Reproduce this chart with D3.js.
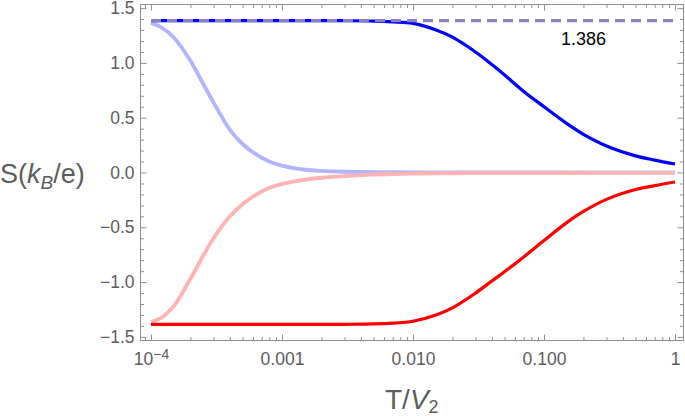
<!DOCTYPE html>
<html>
<head>
<meta charset="utf-8">
<script src="https://cdn.jsdelivr.net/npm/d3@7"></script>
<style>
  html, body { margin: 0; padding: 0; background: #fff; }
  svg { display: block; font-family: "Liberation Sans", Arial, Helvetica, sans-serif; }
</style>
</head>
<body>
<svg id="chart" width="685" height="416"></svg>
<script>
// ---------- data ----------
const T = [1e-4, 1.2e-4, 1.5e-4, 2e-4, 2.5e-4, 3e-4, 4e-4, 5e-4, 6e-4, 8e-4,
           1e-3, 1.5e-3, 2e-3, 3e-3, 5e-3, 7e-3, 0.01, 0.015, 0.02, 0.03,
           0.04, 0.05, 0.07, 0.1, 0.15, 0.2, 0.3, 0.5, 0.7, 1];
const darkBlue = [1.386, 1.386, 1.386, 1.386, 1.386, 1.386, 1.386, 1.386, 1.386, 1.386,
                  1.386, 1.386, 1.386, 1.385, 1.382, 1.374, 1.36, 1.30, 1.235, 1.10,
                  0.985, 0.89, 0.74, 0.60, 0.445, 0.348, 0.242, 0.152, 0.113, 0.078];
const darkRed = [-1.386, -1.386, -1.386, -1.386, -1.386, -1.386, -1.386, -1.386, -1.386, -1.386,
                 -1.386, -1.386, -1.386, -1.385, -1.382, -1.375, -1.357, -1.30, -1.235, -1.10,
                 -0.99, -0.905, -0.77, -0.62, -0.455, -0.355, -0.245, -0.155, -0.12, -0.087];
const lightBlue = [1.365, 1.325, 1.23, 1.02, 0.81, 0.64, 0.39, 0.26, 0.185, 0.10,
                   0.062, 0.025, 0.014, 0.007, 0.004, 0.003, 0.002, 0.0015, 0.001, 0.001,
                   0.001, 0.001, 0.001, 0.001, 0.001, 0.001, 0.001, 0.001, 0.001, 0.001];
const lightRed = [-1.365, -1.325, -1.215, -0.97, -0.76, -0.60, -0.40, -0.29, -0.22, -0.14,
                  -0.105, -0.065, -0.048, -0.033, -0.02, -0.014, -0.01, -0.008, -0.007, -0.006,
                  -0.006, -0.005, -0.005, -0.005, -0.005, -0.004, -0.004, -0.004, -0.004, -0.004];
const refValue = 1.386;
const refLabel = "1.386";
const xMajorTicks = [1e-4, 1e-3, 1e-2, 1e-1, 1];
const xTickLabels = ["10|−4", "0.001", "0.010", "0.100", "1"];
const yMajorTicks = [-1.5, -1.0, -0.5, 0.0, 0.5, 1.0, 1.5];
const yTickLabels = ["−1.5", "−1.0", "−0.5", "0.0", "0.5", "1.0", "1.5"];

// ---------- layout ----------
const svg = d3.select("#chart");
const L = 140.5, R = 683.5, TOP = 4.5, BOT = 340.5;
const x = d3.scaleLog().domain([1e-4, 1]).range([151, 675]);
const y = d3.scaleLinear().domain([-1.5, 1.5]).range([336.9, 8.1]);

// minor ticks
const xMinor = [];
for (let e = -5; e <= 0; e++) for (let k = 2; k <= 9; k++) {
  const v = k * Math.pow(10, e);
  const px = x(v);
  if (px > L && px < R) xMinor.push(v);
}
const yMinor = d3.range(-15, 16).map(d => d / 10).filter(v => Math.abs(v * 2 - Math.round(v * 2)) > 1e-9);

const axisColor = "#8f8f8f";
const labelColor = "#5c5c5c";

function styleAxis(g) {
  g.select(".domain").remove();
  g.selectAll(".tick line").attr("stroke", axisColor).attr("stroke-width", 1);
  g.selectAll(".tick text").attr("fill", labelColor).style("font-size", "17.5px")
    .style("font-family", "'Liberation Sans', Arial, sans-serif");
}

// bottom
svg.append("g").attr("transform", `translate(0,${BOT})`)
  .call(d3.axisBottom(x).tickValues(xMajorTicks).tickSize(-6).tickPadding(12)
    .tickFormat((d, i) => xTickLabels[i]))
  .call(styleAxis)
  .call(g => g.selectAll(".tick text").each(function(d, i) {
    const lbl = xTickLabels[i];
    if (lbl.includes("|")) {
      const [base, sup] = lbl.split("|");
      const t = d3.select(this).text("");
      t.append("tspan").text(base);
      t.append("tspan").attr("dy", "-0.45em").style("font-size", "14px").text(sup);
    }
  }));
svg.append("g").attr("transform", `translate(0,${BOT})`)
  .call(d3.axisBottom(x).tickValues(xMinor).tickSize(-3.5).tickFormat(""))
  .call(styleAxis);
// top
svg.append("g").attr("transform", `translate(0,${TOP})`)
  .call(d3.axisTop(x).tickValues(xMajorTicks).tickSize(-6).tickFormat(""))
  .call(styleAxis);
svg.append("g").attr("transform", `translate(0,${TOP})`)
  .call(d3.axisTop(x).tickValues(xMinor).tickSize(-3.5).tickFormat(""))
  .call(styleAxis);
// left
svg.append("g").attr("transform", `translate(${L},0)`)
  .call(d3.axisLeft(y).tickValues(yMajorTicks).tickSize(-6).tickPadding(6)
    .tickFormat((d, i) => yTickLabels[i]))
  .call(styleAxis);
svg.append("g").attr("transform", `translate(${L},0)`)
  .call(d3.axisLeft(y).tickValues(yMinor).tickSize(-3.5).tickFormat(""))
  .call(styleAxis);
// right
svg.append("g").attr("transform", `translate(${R},0)`)
  .call(d3.axisRight(y).tickValues(yMajorTicks).tickSize(-6).tickFormat(""))
  .call(styleAxis);
svg.append("g").attr("transform", `translate(${R},0)`)
  .call(d3.axisRight(y).tickValues(yMinor).tickSize(-3.5).tickFormat(""))
  .call(styleAxis);

// frame
svg.append("rect").attr("x", L).attr("y", TOP).attr("width", R - L).attr("height", BOT - TOP)
  .attr("fill", "none").attr("stroke", axisColor).attr("stroke-width", 1);

// ---------- curves ----------
const plot = svg.append("g");
const line = vals => d3.line()
  .x((d, i) => x(T[i]))
  .y(d => y(d))
  .curve(d3.curveCatmullRom.alpha(0.5))(vals);

plot.append("path").attr("d", line(lightBlue)).attr("fill", "none")
  .attr("stroke", "#b3b3ff").attr("stroke-width", 3.8).attr("stroke-linejoin", "round");
plot.append("path").attr("d", line(lightRed)).attr("fill", "none")
  .attr("stroke", "#ffb3b3").attr("stroke-width", 3.8).attr("stroke-linejoin", "round");
plot.append("path").attr("d", line(darkBlue)).attr("fill", "none")
  .attr("stroke", "#0000ff").attr("stroke-width", 3.2).attr("stroke-linejoin", "round");
plot.append("path").attr("d", line(darkRed)).attr("fill", "none")
  .attr("stroke", "#ff0000").attr("stroke-width", 3.2).attr("stroke-linejoin", "round");

// dashed reference line
plot.append("line")
  .attr("x1", x(T[0])).attr("x2", x(T[T.length - 1]))
  .attr("y1", y(refValue)).attr("y2", y(refValue))
  .attr("stroke", "#8b80c3").attr("stroke-width", 3.2)
  .attr("stroke-dasharray", "10,6");
plot.append("text")
  .attr("x", x(0.2)).attr("y", y(refValue) + 24)
  .attr("text-anchor", "middle").attr("fill", "#000")
  .style("font-size", "18px").text(refLabel);

// ---------- axis labels ----------
const yl = svg.append("text").attr("x", 0).attr("y", 183)
  .attr("fill", labelColor).style("font-size", "27px");
yl.append("tspan").text("S(");
yl.append("tspan").style("font-style", "italic").text("k");
yl.append("tspan").style("font-style", "italic").style("font-size", "19px").attr("dy", 6).text("B");
yl.append("tspan").attr("dy", -6).text("/e)");

const xl = svg.append("text").attr("x", 385).attr("y", 409)
  .attr("fill", labelColor).style("font-size", "28px");
xl.append("tspan").text("T/");
xl.append("tspan").style("font-style", "italic").text("V");
xl.append("tspan").style("font-size", "18px").attr("dy", 4).text("2");
</script>
</body>
</html>
